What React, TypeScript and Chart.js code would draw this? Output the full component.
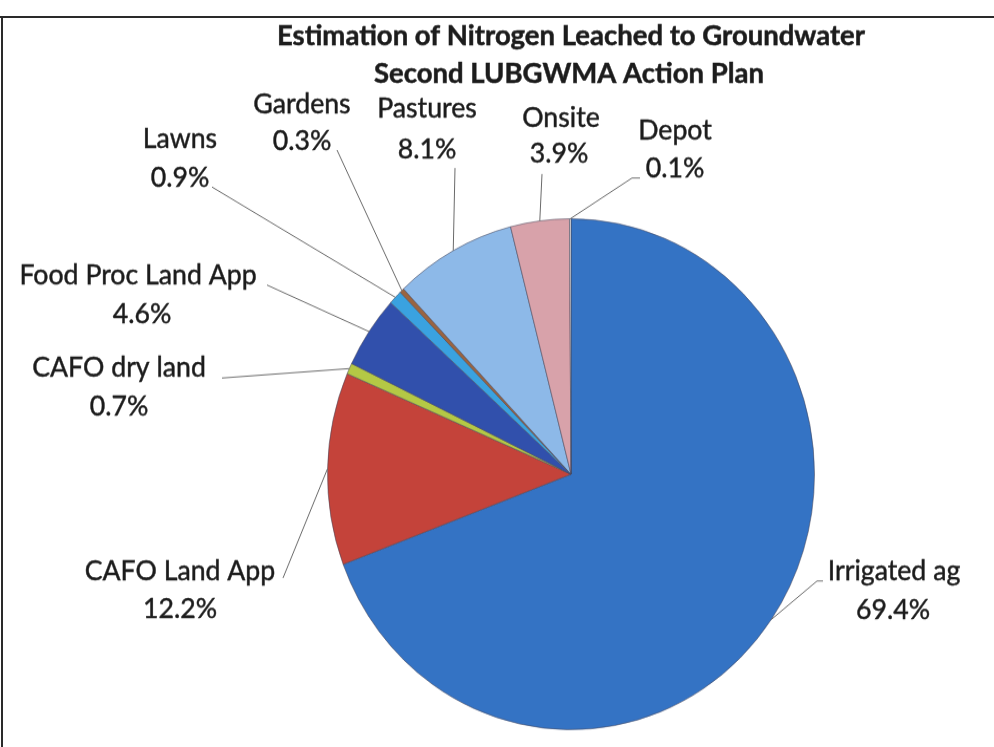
import React, { useEffect, useRef } from "react";
import { Chart, registerables } from "chart.js";

Chart.register(...registerables);

// ---- data ----
const categories = [
  "Irrigated ag",
  "CAFO Land App",
  "CAFO dry land",
  "Food Proc Land App",
  "Lawns",
  "Gardens",
  "Pastures",
  "Onsite",
  "Depot",
];
const shares = [69.4, 12.2, 0.7, 4.6, 0.9, 0.3, 8.1, 3.9, 0.1];
const percentLabels = ["69.4%", "12.2%", "0.7%", "4.6%", "0.9%", "0.3%", "8.1%", "3.9%", "0.1%"];
const titleLines = ["Estimation of Nitrogen Leached to Groundwater", "Second LUBGWMA Action Plan"];

// ---- styles ----
const sliceColors = [
  "#3473c4",
  "#c4433a",
  "#b4c845",
  "#3150ac",
  "#3aa2e0",
  "#9a6440",
  "#8db9e8",
  "#d8a2aa",
  "#f2f2f2",
];

// ---- layout (page coords; canvas is stretched vertically by SY like the scan) ----
const PAGE_W = 994;
const PAGE_H = 747;
const CANVAS_H = 712;
const SY = PAGE_H / CANVAS_H;

const titlePos = [
  [571, 45],
  [569, 83],
];
// [x, baseline] for name line and for percent line
const nameAnchor = [
  [894, 580],
  [180, 580],
  [119, 377],
  [138, 284],
  [180, 148],
  [302, 113],
  [427, 118],
  [561, 127],
  [675, 140],
];
const pctAnchor = [
  [893, 619],
  [180, 618],
  [119, 415],
  [142, 323],
  [180, 187],
  [302, 150],
  [427, 158],
  [559, 163],
  [675, 177],
];
const leaderPoints = [
  [[817, 581], [823, 581]],
  [[283, 578]],
  [[222, 378]],
  [[267, 285]],
  [[212, 187]],
  [[337, 150]],
  [[455, 168]],
  [[542, 174]],
  [[632, 178], [640, 178]],
];

const overlayPlugin = {
  id: "overlay",
  afterDraw(chart: any) {
    const ctx = chart.ctx as CanvasRenderingContext2D;
    const meta = chart.getDatasetMeta(0);
    ctx.save();
    ctx.textAlign = "center";
    ctx.textBaseline = "alphabetic";
    ctx.fillStyle = "#1c1c1c";
    ctx.strokeStyle = "#1c1c1c";
    ctx.lineWidth = 0.5;
    ctx.font = "bold 27.5px Lato";
    titleLines.forEach((t, i) => {
      ctx.fillText(t, titlePos[i][0], titlePos[i][1] / SY);
      ctx.strokeText(t, titlePos[i][0], titlePos[i][1] / SY);
    });

    meta.data.forEach((arc: any, i: number) => {
      const p = arc.getProps(["x", "y", "startAngle", "endAngle", "outerRadius"], true);
      const mid = (p.startAngle + p.endAngle) / 2;
      const ex = p.x + Math.cos(mid) * p.outerRadius;
      const ey = p.y + Math.sin(mid) * p.outerRadius;
      ctx.beginPath();
      ctx.moveTo(ex, ey);
      leaderPoints[i].forEach(([px, py]) => ctx.lineTo(px, py / SY));
      ctx.strokeStyle = "#6a6a6a";
      ctx.lineWidth = 1;
      ctx.stroke();

      ctx.fillStyle = "#1c1c1c";
      ctx.strokeStyle = "#1c1c1c";
      ctx.lineWidth = 0.45;
      ctx.font = "26.7px Lato";
      ctx.fillText(categories[i], nameAnchor[i][0], nameAnchor[i][1] / SY);
      ctx.strokeText(categories[i], nameAnchor[i][0], nameAnchor[i][1] / SY);
      ctx.fillText(percentLabels[i], pctAnchor[i][0], pctAnchor[i][1] / SY);
      ctx.strokeText(percentLabels[i], pctAnchor[i][0], pctAnchor[i][1] / SY);
    });
    ctx.restore();
  },
};

export default function App() {
  const canvasRef = useRef<HTMLCanvasElement | null>(null);

  useEffect(() => {
    document.body.style.margin = "0";
    const canvas = canvasRef.current;
    if (!canvas) return;
    const chart = new Chart(canvas, {
      type: "pie",
      data: {
        labels: categories,
        datasets: [
          {
            data: shares,
            backgroundColor: sliceColors,
            borderColor: "rgba(70,70,90,0.55)",
            borderWidth: 1,
          },
        ],
      },
      options: {
        responsive: true,
        maintainAspectRatio: false,
        animation: false,
        devicePixelRatio: 1,
        layout: { padding: { left: 327, right: 179, top: 208, bottom: 16 } },
        plugins: {
          legend: { display: false },
          tooltip: { enabled: false },
          title: { display: false },
        },
      },
      plugins: [overlayPlugin],
    });
    return () => chart.destroy();
  }, []);

  return (
    <div
      style={{
        position: "absolute",
        left: 0,
        top: 0,
        width: PAGE_W,
        height: PAGE_H,
        overflow: "hidden",
        background: "#ffffff",
      }}
    >
      <div
        style={{
          position: "absolute",
          left: 0,
          top: 0,
          width: PAGE_W,
          height: CANVAS_H,
          transform: `scaleY(${SY})`,
          transformOrigin: "0 0",
        }}
      >
        <canvas ref={canvasRef} />
      </div>
      <div style={{ position: "absolute", left: 0, top: 16, width: PAGE_W, height: 2, background: "#2a2a2a" }} />
      <div style={{ position: "absolute", left: 1, top: 17, width: 2, height: PAGE_H - 17, background: "#2a2a2a" }} />
    </div>
  );
}
